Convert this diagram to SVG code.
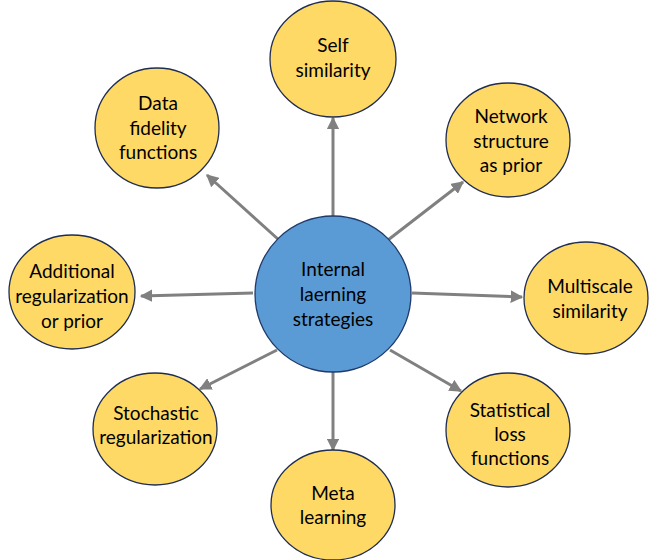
<svg xmlns="http://www.w3.org/2000/svg" width="662" height="560" viewBox="0 0 662 560">
  <style>
    .leaf { fill: #FFD966; stroke: #1F2D50; stroke-width: 1.3; }
    .hub { fill: #5B9BD5; stroke: #1F3A6B; stroke-width: 1.3; }
    .lbl { font-family: Lato, "Open Sans", sans-serif; font-size: 19px; fill: #000; text-anchor: middle; }
    .edge { stroke: #808080; stroke-width: 3; fill: none; marker-end: url(#head); }
  </style>
  <defs>
    <marker id="head" viewBox="0 0 10 10" refX="9" refY="5" markerWidth="4.2" markerHeight="4.2" orient="auto" markerUnits="strokeWidth">
      <path d="M0,0 L10,5 L0,10 z" fill="#808080"/>
    </marker>
  </defs>
  <rect width="662" height="560" fill="#fff"/>

  <g id="connectors">
    <line class="edge" x1="333" y1="216" x2="333" y2="118"/>
    <line class="edge" x1="279" y1="240" x2="207" y2="175"/>
    <line class="edge" x1="388" y1="240" x2="463" y2="182"/>
    <line class="edge" x1="253" y1="293" x2="141" y2="296"/>
    <line class="edge" x1="412" y1="293" x2="522" y2="297"/>
    <line class="edge" x1="277" y1="350" x2="200" y2="389"/>
    <line class="edge" x1="390" y1="350" x2="461" y2="391"/>
    <line class="edge" x1="333" y1="372" x2="333" y2="450"/>
  </g>

  <g id="hub">
    <circle class="hub" cx="333" cy="294" r="78"/>
    <text class="lbl"><tspan x="333" y="276">Internal</tspan><tspan x="333" y="301">laerning</tspan><tspan x="333" y="326">strategies</tspan></text>
  </g>

  <g id="self-similarity">
    <ellipse class="leaf" cx="333" cy="59" rx="63" ry="58"/>
    <text class="lbl"><tspan x="333" y="52">Self</tspan><tspan x="333" y="77">similarity</tspan></text>
  </g>

  <g id="data-fidelity">
    <ellipse class="leaf" cx="157" cy="128" rx="62" ry="60"/>
    <text class="lbl"><tspan x="158" y="110">Data</tspan><tspan x="158" y="134.5">fidelity</tspan><tspan x="158" y="159">functions</tspan></text>
  </g>

  <g id="network-structure">
    <ellipse class="leaf" cx="508" cy="140" rx="62" ry="57"/>
    <text class="lbl"><tspan x="511" y="123">Network</tspan><tspan x="511" y="148">structure</tspan><tspan x="511" y="172">as prior</tspan></text>
  </g>

  <g id="additional-regularization">
    <ellipse class="leaf" cx="72" cy="292" rx="63" ry="57"/>
    <text class="lbl"><tspan x="72" y="278">Additional</tspan><tspan x="72" y="303">regularization</tspan><tspan x="72" y="328">or prior</tspan></text>
  </g>

  <g id="multiscale-similarity">
    <ellipse class="leaf" cx="586" cy="298" rx="62" ry="56"/>
    <text class="lbl"><tspan x="590" y="293">Multiscale</tspan><tspan x="590" y="318">similarity</tspan></text>
  </g>

  <g id="stochastic-regularization">
    <ellipse class="leaf" cx="155" cy="429" rx="62" ry="56"/>
    <text class="lbl"><tspan x="156" y="420">Stochastic</tspan><tspan x="156" y="444">regularization</tspan></text>
  </g>

  <g id="statistical-loss">
    <ellipse class="leaf" cx="508" cy="430" rx="62" ry="57"/>
    <text class="lbl"><tspan x="510" y="417">Statistical</tspan><tspan x="510" y="441">loss</tspan><tspan x="510" y="465">functions</tspan></text>
  </g>

  <g id="meta-learning">
    <ellipse class="leaf" cx="333" cy="505" rx="62" ry="55"/>
    <text class="lbl"><tspan x="333" y="500">Meta</tspan><tspan x="333" y="524">learning</tspan></text>
  </g>
</svg>
